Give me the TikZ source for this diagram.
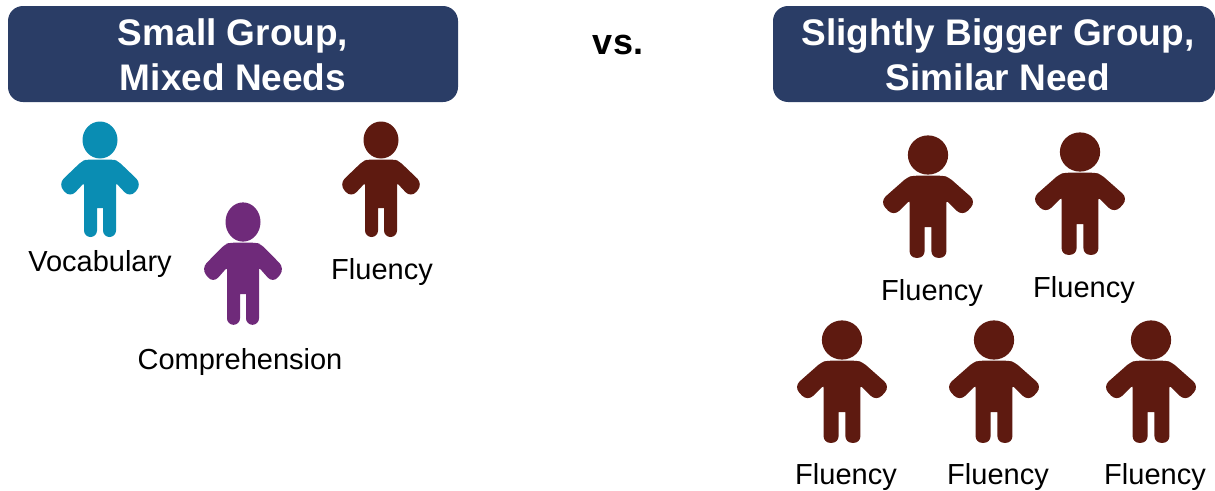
\documentclass[tikz,border=0pt]{standalone}
\usepackage{fontspec}
\setmainfont{Liberation Sans}
\definecolor{navy}{HTML}{2A3D66}
\definecolor{kidblue}{HTML}{0A8DB3}
\definecolor{kidpurple}{HTML}{6F2A7A}
\definecolor{kidbrown}{HTML}{5E1A10}
\tikzset{
  banner/.style={fill=navy,rounded corners=15pt},
  headtext/.style={text=white,font=\fontsize{37}{37}\selectfont\bfseries,anchor=base,inner sep=0pt},
  vstext/.style={text=black,font=\fontsize{36}{36}\selectfont\bfseries,anchor=base,inner sep=0pt},
  lbl/.style={text=black,font=\fontsize{29}{29}\selectfont,anchor=base,inner sep=0pt},
  kid/.pic={
    \fill[pic actions] (0,0) ellipse [x radius=17.5,y radius=18.5];
    \fill[pic actions] (0,19.5)
      [rounded corners=4] -- (13,19.5) -- (18,21)
      [rounded corners=8] -- (42,44) -- (30,58)
      [rounded corners=2] -- (16,43)
      [rounded corners=6.5] -- (16,97) -- (3,97)
      [sharp corners] -- (3,68) -- (-3,68)
      [rounded corners=6.5] -- (-3,97) -- (-16,97)
      [rounded corners=2] -- (-16,43)
      [rounded corners=8] -- (-30,58) -- (-42,44)
      [rounded corners=4] -- (-18,21) -- (-13,19.5)
      [sharp corners] -- cycle;
  },
  small/.style={xscale=1,yscale=1},
  tall/.style={xscale=1,yscale=1.06},
  big/.style={xscale=1.15,yscale=1.06}
}
\begin{document}
\begin{tikzpicture}[x=1pt,y=-1pt]
\useasboundingbox (0,0) rectangle (1215,490);
\fill[banner] (8,6) rectangle (458,102);
\fill[banner] (773,6) rectangle (1215,102);
\node[headtext] (h1a) at (233,45) {Small Group,};
\node[headtext] (h1b) at (233,90) {Mixed Needs};
\node[headtext] (h2a) at (998,45) {Slightly Bigger Group,};
\node[headtext] (h2b) at (998,90) {Similar Need};
\node[vstext] (vs) at (618,54) {vs.};
\pic[fill=kidblue,small] at (100,140) {kid};
\pic[fill=kidpurple,tall] at (243,222) {kid};
\pic[fill=kidbrown,small] at (381,140) {kid};
\pic[fill=kidbrown,big] at (928,155) {kid};
\pic[fill=kidbrown,big] at (1080,152) {kid};
\pic[fill=kidbrown,big] at (842,340) {kid};
\pic[fill=kidbrown,big] at (994,340) {kid};
\pic[fill=kidbrown,big] at (1151,340) {kid};
\node[lbl] (l1) at (100,271) {Vocabulary};
\node[lbl] (l2) at (240,369) {Comprehension};
\node[lbl] (l3) at (382,279) {Fluency};
\node[lbl] (l4) at (932,300) {Fluency};
\node[lbl] (l5) at (1084,297) {Fluency};
\node[lbl] (l6) at (846,484) {Fluency};
\node[lbl] (l7) at (998,484) {Fluency};
\node[lbl] (l8) at (1155,484) {Fluency};
\end{tikzpicture}
\end{document}
